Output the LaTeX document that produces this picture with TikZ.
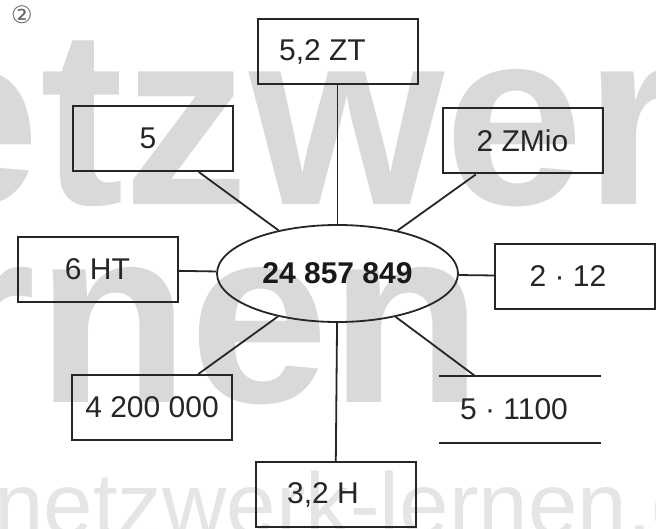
\documentclass[tikz,border=0pt]{standalone}
\usepackage{fontspec}
\setmainfont{Liberation Sans}
\newfontfamily\djv{DejaVu Sans}
\usetikzlibrary{shapes.geometric}
\begin{document}
\begin{tikzpicture}[x=1pt,y=-1pt,
  box/.style={draw=black!85, line width=2pt, minimum width=160pt, minimum height=65pt, inner sep=0pt, font=\fontsize{30}{30}\selectfont, text=black!85},
  conn/.style={draw=black!85, line width=1.8pt},
  wm/.style={inner sep=0pt, anchor=base west}]
\useasboundingbox (0,0) rectangle (656,529);
\clip (0,0) rectangle (656,529);
% watermark
\node[wm, text=black!15, font=\bfseries\fontsize{251}{251}\selectfont] (wm1) at (-253,205) {netzwerk};
\node[wm, text=black!15, font=\bfseries\fontsize{251}{251}\selectfont] (wm2) at (-271,402) {lernen};
\node[wm, text=black!10, font=\fontsize{89}{89}\selectfont] (wm3) at (-6,535) {netzwerk-lernen.de};
% number
\node[text=black!60, font=\djv\fontsize{24}{24}\selectfont, inner sep=0pt] (num) at (22,15) {②};
% centre
\node[ellipse, draw=black!85, line width=1.8pt, minimum width=241pt, minimum height=97pt, inner sep=0pt,
      font=\bfseries\fontsize{30}{30}\selectfont, text=black!90] (ell) at (337.5,273.5) {24 857 849};
% boxes
\node[box] (zt) at (337.5,52) {\hspace*{-30pt}5,2 ZT};
\node[box] (b5) at (153,138.5) {\hspace*{-10pt}5};
\node[box] (zmio) at (522.5,141) {2 ZMio};
\node[box] (ht) at (97.5,269.5) {6 HT};
\node[box] (tw) at (575,276.5) {\hspace*{-14pt}2 · 12};
\node[box] (fm) at (152,407.5) {4 200 000};
\node[box, draw=none] (fh) at (520,409.5) {\hspace*{-12pt}5 · 1100};
\node[box] (h) at (335.5,494.5) {\hspace*{-25pt}3,2 H};
\draw[line width=2pt, draw=black!85] (fh.north west) -- (fh.north east);
\draw[line width=2pt, draw=black!85] (fh.south west) -- (fh.south east);
% connectors
\draw[conn] (zt) -- (ell);
\draw[conn] (b5) -- (ell);
\draw[conn] (zmio) -- (ell);
\draw[conn] (ht) -- (ell);
\draw[conn] (tw) -- (ell);
\draw[conn] (fm) -- (ell);
\draw[conn] (fh) -- (ell);
\draw[conn] (h) -- (ell);
\end{tikzpicture}
\end{document}
